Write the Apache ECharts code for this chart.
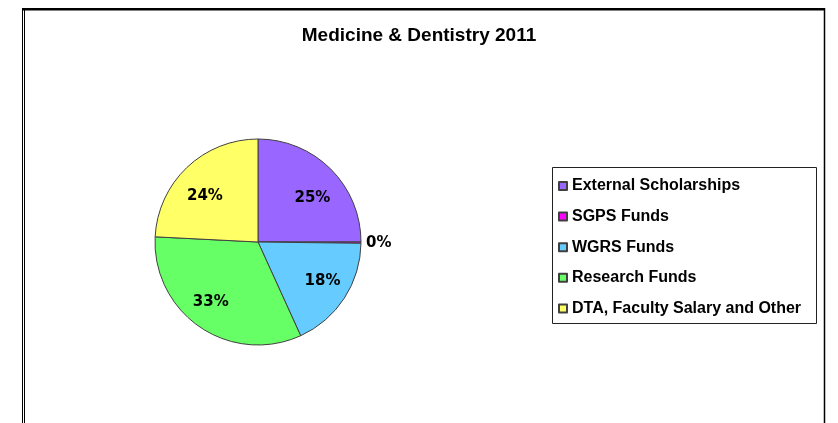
<!DOCTYPE html>
<html lang="en">
    <head>
        <meta charset="UTF-8" />
        <title>Medicine & Dentistry 2011</title>
        <script src="https://cdn.jsdelivr.net/npm/echarts@6.0.0/dist/echarts.min.js"></script>
        <style>
            html,
            body {
                margin: 0;
                padding: 0;
                background: #fff;
            }
            #chart {
                width: 838px;
                height: 423px;
            }
        </style>
    </head>

    <body>
        <div id="chart"></div>

        <script>
            var names = [
                'External Scholarships',
                'SGPS Funds',
                'WGRS Funds',
                'Research Funds',
                'DTA, Faculty Salary and Other',
            ];
            var values = [25.0, 0.2, 18.0, 32.6, 24.2];
            var colors = ['#9966FF', '#FF00FF', '#66CCFF', '#66FF66', '#FFFF66'];
            // Excel放百分比的位置不完全是径向的，上下微调一下(px)
            var labelNudgeY = [11, 0, -3, -4, 10];
            var labelNudgeX = [0, 0, 0, -4, 0];

            var labelFont = {
                fontFamily: 'DejaVu Sans',
                fontSize: 15,
                fontWeight: 'bold',
                color: '#000',
                lineHeight: 18,
            };

            var element = document.getElementById('chart');
            var myChart = echarts.init(element);

            // 主饼图，只给0%那块显示外部标签
            var pieData = names.map(function (name, i) {
                return {
                    name: name,
                    value: values[i],
                    label: { show: values[i] < 1 },
                };
            });
            // 透明的环，用来把百分比放到更靠外的位置
            var labelData = names.map(function (name, i) {
                var n = labelNudgeY[i];
                var dx = labelNudgeX[i];
                var fmt = '{v|{d}%}';
                if (n > 0) fmt = '{g| }\n' + fmt;
                if (n < 0) fmt = fmt + '\n{g| }';
                return {
                    name: name,
                    value: values[i],
                    label: {
                        show: values[i] >= 1,
                        formatter: fmt,
                        padding: dx < 0 ? [0, -2 * dx, 0, 0] : [0, 0, 0, 2 * dx],
                        rich: {
                            v: labelFont,
                            g: { fontSize: 2, lineHeight: Math.abs(2 * n) },
                        },
                    },
                };
            });

            var option = {
                animation: false,
                color: colors,
                title: {
                    text: 'Medicine & Dentistry 2011',
                    left: 'center',
                    top: 26,
                    padding: [0, 0, 0, 8],
                    textStyle: {
                        fontFamily: 'Liberation Sans',
                        fontSize: 19,
                        fontWeight: 'bold',
                        color: '#000',
                    },
                },
                legend: {
                    orient: 'vertical',
                    left: 558,
                    top: 178,
                    padding: 0,
                    itemGap: 14.6,
                    itemWidth: 8,
                    itemHeight: 8,
                    icon: 'rect',
                    data: names,
                    selectedMode: false,
                    textStyle: {
                        fontFamily: 'Liberation Sans',
                        fontSize: 16,
                        fontWeight: 'bold',
                        lineHeight: 16,
                        color: '#000',
                    },
                },
                graphic: [
                    // 外框
                    {
                        type: 'rect',
                        shape: { x: 23, y: 8, width: 802, height: 2.5 },
                        style: { fill: '#000' },
                    },
                    {
                        type: 'line',
                        shape: { x1: 22.5, y1: 8, x2: 22.5, y2: 423 },
                        style: { stroke: '#000', lineWidth: 1 },
                    },
                    {
                        type: 'line',
                        shape: { x1: 24.5, y1: 10, x2: 24.5, y2: 423 },
                        style: { stroke: '#000', lineWidth: 1 },
                    },
                    {
                        type: 'line',
                        shape: { x1: 824.5, y1: 8, x2: 824.5, y2: 423 },
                        style: { stroke: '#000', lineWidth: 1.5 },
                    },
                    // 图例框
                    {
                        type: 'rect',
                        shape: { x: 552.5, y: 167.5, width: 264, height: 156 },
                        style: { fill: 'none', stroke: '#222', lineWidth: 1 },
                    },
                ],
                series: [
                    {
                        name: 'Medicine & Dentistry 2011',
                        type: 'pie',
                        center: [258, 242],
                        radius: 103,
                        startAngle: 90,
                        clockwise: true,
                        percentPrecision: 0,
                        silent: true,
                        itemStyle: {
                            borderColor: '#404040',
                            borderWidth: 1,
                        },
                        label: {
                            position: 'outside',
                            formatter: '{d}%',
                            fontFamily: 'DejaVu Sans',
                            fontSize: 15,
                            fontWeight: 'bold',
                            color: '#000',
                        },
                        labelLine: { show: false, length: 0, length2: 0 },
                        emphasis: { disabled: true },
                        data: pieData,
                    },
                    {
                        type: 'pie',
                        center: [258, 242],
                        radius: [45, 103],
                        startAngle: 90,
                        clockwise: true,
                        percentPrecision: 0,
                        silent: true,
                        itemStyle: {
                            color: 'rgba(0,0,0,0)',
                            borderWidth: 0,
                        },
                        label: {
                            position: 'inside',
                            fontFamily: 'DejaVu Sans',
                            fontSize: 15,
                            fontWeight: 'bold',
                            color: '#000',
                        },
                        labelLine: { show: false },
                        emphasis: { disabled: true },
                        data: labelData,
                    },
                ],
            };
            myChart.setOption(option, true);
            window.addEventListener('resize', function () {
                myChart.resize();
            });
        </script>
    </body>
</html>
